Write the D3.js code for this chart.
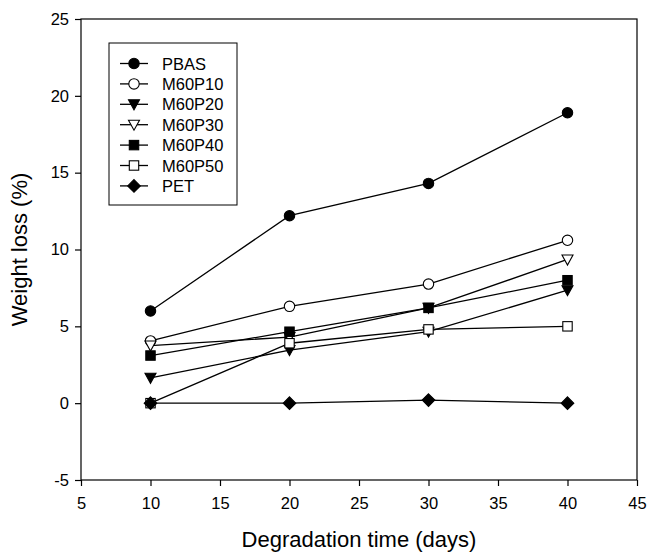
<!DOCTYPE html>
<meta charset="utf-8">
<style>
  body { margin: 0; background: #fff; }
  text { font-family: "Liberation Sans", Arial, sans-serif; fill: #000; }
</style>
<script src="https://d3js.org/d3.v7.min.js"></script>
<div id="chart"></div>
<script>
  // data
  var days = [10, 20, 30, 40]
  var seriesNames = ["PBAS", "M60P10", "M60P20", "M60P30", "M60P40", "M60P50", "PET"]
  var pbas   = [6.0, 12.2, 14.3, 18.9]
  var m60p10 = [4.05, 6.3, 7.75, 10.6]
  var m60p20 = [1.65, 3.45, 4.65, 7.35]
  var m60p30 = [3.75, 4.3, 6.2, 9.35]
  var m60p40 = [3.1, 4.65, 6.2, 8.0]
  var m60p50 = [0.0, 3.9, 4.8, 5.0]
  var pet    = [0.0, 0.0, 0.2, 0.0]
  var xTicks = [5, 10, 15, 20, 25, 30, 35, 40, 45]
  var yTicks = [-5, 0, 5, 10, 15, 20, 25]

  var allValues = [pbas, m60p10, m60p20, m60p30, m60p40, m60p50, pet]
  // marker style per series: shape + filled or not
  var shapes = ["circle", "circle", "tri", "tri", "square", "square", "diamond"]
  var filled = [true, false, true, false, true, false, true]

  var width = 647, height = 552
  var margin = {left: 81, right: 10, top: 19, bottom: 72}

  var svg = d3.select("#chart").append("svg")
    .attr("width", width)
    .attr("height", height)

  var x = d3.scaleLinear().domain([5, 45]).range([margin.left, width - margin.right])
  var y = d3.scaleLinear().domain([-5, 25]).range([height - margin.bottom, margin.top])

  // frame
  svg.append("rect")
    .attr("x", x(5)).attr("y", y(25))
    .attr("width", x(45) - x(5)).attr("height", y(-5) - y(25))
    .attr("fill", "none").attr("stroke", "#000").attr("stroke-width", 1.2)

  var xAxis = svg.append("g")
    .attr("transform", "translate(0," + y(-5) + ")")
    .call(d3.axisBottom(x).tickValues(xTicks).tickSize(6).tickPadding(11).tickFormat(function(d) { return String(d) }))
  var yAxis = svg.append("g")
    .attr("transform", "translate(" + x(5) + ",0)")
    .call(d3.axisLeft(y).tickValues(yTicks).tickSize(6).tickPadding(6).tickFormat(function(d) { return String(d) }))

  ;[xAxis, yAxis].forEach(function(a) {
    a.select(".domain").remove()
    a.selectAll("line").attr("stroke", "#000").attr("stroke-width", 1.2)
    a.selectAll("text").style("font-size", "16.5px").style("font-family", "Liberation Sans, Arial, sans-serif")
  })

  // axis titles
  svg.append("text")
    .attr("x", (x(5) + x(45)) / 2).attr("y", 547)
    .attr("text-anchor", "middle")
    .style("font-size", "22px")
    .text("Degradation time (days)")
  svg.append("text")
    .attr("transform", "translate(27," + (y(-5) + y(25)) / 2 + ") rotate(-90)")
    .attr("text-anchor", "middle")
    .style("font-size", "22px")
    .text("Weight loss (%)")

  function marker(sel, i) {
    var s = shapes[i]
    var fill = filled[i] ? "#000" : "#fff"
    if (s == "circle") {
      sel.append("circle").attr("r", 5.2)
    } else if (s == "tri") {
      sel.append("path").attr("d", "M-5.5,-4.5 L5.5,-4.5 L0,5.5 Z")
    } else if (s == "square") {
      sel.append("rect").attr("x", -4.7).attr("y", -4.7).attr("width", 9.4).attr("height", 9.4)
    } else {
      sel.append("path").attr("d", "M0,-6.3 L6.3,0 L0,6.3 L-6.3,0 Z")
    }
    sel.selectAll("*").attr("fill", fill).attr("stroke", "#000").attr("stroke-width", 1.1)
  }

  var line = d3.line()
    .x(function(d, j) { return x(days[j]) })
    .y(function(d) { return y(d) })

  allValues.forEach(function(vals, i) {
    svg.append("path")
      .attr("d", line(vals))
      .attr("fill", "none")
      .attr("stroke", "#000")
      .attr("stroke-width", 1.3)
  })
  // markers go on after all the lines, PET last so it covers M60P50 at day 10
  allValues.forEach(function(vals, i) {
    vals.forEach(function(v, j) {
      var g = svg.append("g").attr("transform", "translate(" + x(days[j]) + "," + y(v) + ")")
      marker(g, i)
    })
  })

  // legend
  var leg = svg.append("g")
  leg.append("rect")
    .attr("x", 109).attr("y", 43).attr("width", 128).attr("height", 162)
    .attr("fill", "#fff").attr("stroke", "#000").attr("stroke-width", 1)
  seriesNames.forEach(function(name, i) {
    var cy = 63.5 + i * 20.4
    leg.append("line")
      .attr("x1", 120).attr("x2", 148).attr("y1", cy).attr("y2", cy)
      .attr("stroke", "#000").attr("stroke-width", 1.3)
    var g = leg.append("g").attr("transform", "translate(134," + cy + ")")
    marker(g, i)
    leg.append("text")
      .attr("x", 162).attr("y", cy + 6)
      .style("font-size", "16.5px")
      .text(name)
  })
</script>
